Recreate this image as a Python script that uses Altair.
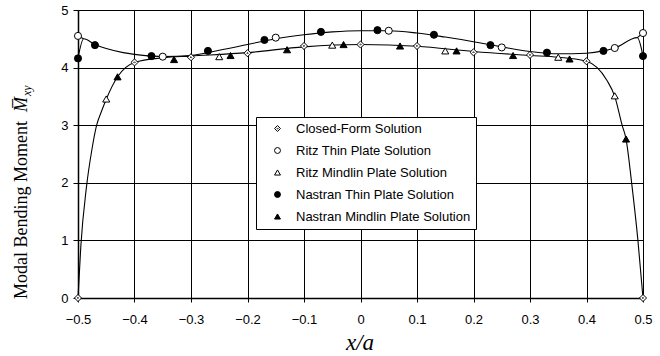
import altair as alt
import pandas as pd

# ---- data -------------------------------------------------------------
series = [
    "Closed-Form Solution",
    "Ritz Thin Plate Solution",
    "Ritz Mindlin Plate Solution",
    "Nastran Thin Plate Solution",
    "Nastran Mindlin Plate Solution",
]

closed_x = [-0.5, -0.4, -0.3, -0.2, -0.1, 0.0, 0.1, 0.2, 0.3, 0.4, 0.5]
closed_y = [0.0, 4.09, 4.18, 4.25, 4.375, 4.40, 4.375, 4.265, 4.22, 4.11, 0.0]

ritz_thin_x = [-0.5, -0.35, -0.15, 0.05, 0.25, 0.45, 0.5]
ritz_thin_y = [4.55, 4.19, 4.52, 4.64, 4.35, 4.34, 4.60]

ritz_mindlin_x = [-0.45, -0.25, -0.05, 0.15, 0.35, 0.45]
ritz_mindlin_y = [3.455, 4.19, 4.39, 4.29, 4.18, 3.51]

nastran_thin_x = [-0.5, -0.47, -0.37, -0.27, -0.17, -0.07, 0.03, 0.13, 0.23, 0.33, 0.43, 0.5]
nastran_thin_y = [4.16, 4.39, 4.20, 4.29, 4.48, 4.62, 4.65, 4.57, 4.39, 4.26, 4.29, 4.20]

nastran_mindlin_x = [-0.43, -0.33, -0.23, -0.13, -0.03, 0.07, 0.17, 0.27, 0.37, 0.47]
nastran_mindlin_y = [3.84, 4.14, 4.21, 4.31, 4.40, 4.375, 4.29, 4.21, 4.15, 2.76]

# smooth solution curves
thin_curve_x = [-0.5, -0.49, -0.47, -0.45, -0.42, -0.4, -0.37, -0.35, -0.3, -0.25, -0.2,
                -0.15, -0.1, -0.05, 0.0, 0.05, 0.1, 0.15, 0.2, 0.25, 0.3, 0.35, 0.4,
                0.43, 0.45, 0.49, 0.5]
thin_curve_y = [4.16, 4.50, 4.40, 4.33, 4.26, 4.23, 4.20, 4.19, 4.21, 4.30, 4.40,
                4.50, 4.57, 4.62, 4.64, 4.64, 4.60, 4.53, 4.45, 4.36, 4.28, 4.24, 4.25,
                4.29, 4.34, 4.52, 4.20]

edge_left_x = [-0.5, -0.49]
edge_left_y = [4.55, 4.50]
edge_right_x = [0.49, 0.5]
edge_right_y = [4.52, 4.60]

mindlin_curve_x = [-0.5, -0.495, -0.485, -0.475, -0.467, -0.458, -0.45, -0.43, -0.4, -0.35,
                   -0.3, -0.2, -0.1, 0.0, 0.1, 0.2, 0.3, 0.35, 0.4, 0.436, 0.45, 0.463,
                   0.47, 0.48, 0.491, 0.5]
mindlin_curve_y = [0.0, 0.9, 1.93, 2.6, 3.0, 3.25, 3.45, 3.84, 4.09, 4.17,
                   4.20, 4.26, 4.36, 4.40, 4.37, 4.28, 4.21, 4.18, 4.11, 3.78, 3.50, 3.0,
                   2.76, 1.99, 1.0, 0.0]

x_ticks = [-0.5, -0.4, -0.3, -0.2, -0.1, 0.0, 0.1, 0.2, 0.3, 0.4, 0.5]
y_ticks = [0, 1, 2, 3, 4, 5]

# ---- tables -----------------------------------------------------------
pts = []
for name, xs, ys in [
    (series[0], closed_x, closed_y),
    (series[1], ritz_thin_x, ritz_thin_y),
    (series[2], ritz_mindlin_x, ritz_mindlin_y),
    (series[3], nastran_thin_x, nastran_thin_y),
    (series[4], nastran_mindlin_x, nastran_mindlin_y),
]:
    pts += [{"x": a, "y": b, "series": name} for a, b in zip(xs, ys)]
points = pd.DataFrame(pts)

curves = []
for name, xs, ys in [
    ("thin", thin_curve_x, thin_curve_y),
    ("edgeL", edge_left_x, edge_left_y),
    ("edgeR", edge_right_x, edge_right_y),
    ("mindlin", mindlin_curve_x, mindlin_curve_y),
]:
    curves += [{"x": a, "y": b, "curve": name} for a, b in zip(xs, ys)]
curves = pd.DataFrame(curves)

W, H = 565, 288

x_scale = alt.Scale(domain=[-0.5, 0.5], nice=False, zero=False)
y_scale = alt.Scale(domain=[0, 5], nice=False)

x_axis = alt.Axis(values=x_ticks, format="~g", title=None, grid=True, tickSize=4,
                  labelPadding=11, labelFlush=False)
y_axis = alt.Axis(values=y_ticks, title=None, grid=True, tickSize=5, labelPadding=5)

lines = alt.Chart(curves).mark_line(color="black", strokeWidth=1.1,
                                    interpolate="monotone").encode(
    x=alt.X("x:Q", scale=x_scale, axis=x_axis),
    y=alt.Y("y:Q", scale=y_scale, axis=y_axis),
    detail="curve:N",
)

diamond_dot = "M0,-1L1,0L0,1L-1,0Z M0,-0.18L0.18,0L0,0.18L-0.18,0Z"

marks = alt.Chart(points).mark_point(filled=True, strokeWidth=1,
                                     opacity=1, size=50).encode(
    x=alt.X("x:Q", scale=x_scale, axis=x_axis),
    y=alt.Y("y:Q", scale=y_scale, axis=y_axis),
    shape=alt.Shape("series:N", scale=alt.Scale(
        domain=series,
        range=[diamond_dot, "circle", "triangle-up", "circle", "triangle-up"])),
    fill=alt.Fill("series:N", scale=alt.Scale(
        domain=series, range=["white", "white", "white", "black", "black"])),
    stroke=alt.Stroke("series:N", scale=alt.Scale(
        domain=series, range=["black"] * 5)),
)

# axis titles
serif = "Liberation Serif"
ttl_main = alt.Chart(pd.DataFrame({"t": ["Modal Bending Moment"]})).mark_text(
    font=serif, fontSize=18, angle=270, align="left", baseline="middle", color="black"
).encode(text="t:N", x=alt.value(-56), y=alt.value(289))

ttl_m = alt.Chart(pd.DataFrame({"t": ["M\u0305"]})).mark_text(
    font=serif, fontSize=18, fontStyle="italic", angle=270, align="left",
    baseline="middle", color="black"
).encode(text="t:N", x=alt.value(-56), y=alt.value(102))

ttl_sub = alt.Chart(pd.DataFrame({"t": ["xy"]})).mark_text(
    font=serif, fontSize=12, fontStyle="italic", angle=270, align="left",
    baseline="middle", color="black"
).encode(text="t:N", x=alt.value(-51), y=alt.value(86))

ttl_x = alt.Chart(pd.DataFrame({"t": ["x/a"]})).mark_text(
    font=serif, fontSize=23, fontStyle="italic", align="center",
    baseline="middle", color="black"
).encode(text="t:N", x=alt.value(282), y=alt.value(333))

chart = alt.layer(lines, marks, ttl_main, ttl_m, ttl_sub, ttl_x).properties(
    width=W, height=H,
    autosize=alt.AutoSizeParams(type="none"),
    padding={"left": 78, "top": 10, "right": 17, "bottom": 58},
).configure_view(stroke=None).configure_axis(
    domainColor="black", domainWidth=1.5, gridColor="black", gridWidth=1,
    gridOpacity=1, tickColor="black", tickWidth=1,
    labelFont="Liberation Sans", labelFontSize=13, labelColor="black",
).configure_legend(
    orient="none", legendX=178, legendY=107, title=None,
    strokeColor="black", fillColor="white", padding=5,
    labelFont="Liberation Sans", labelFontSize=13, labelColor="black",
    labelLimit=400,
    symbolSize=35, symbolStrokeColor="black", symbolStrokeWidth=1,
    symbolOffset=10, labelOffset=12, rowPadding=8,
)

chart.save("out.html", embed_options={"renderer": "svg", "actions": False})
